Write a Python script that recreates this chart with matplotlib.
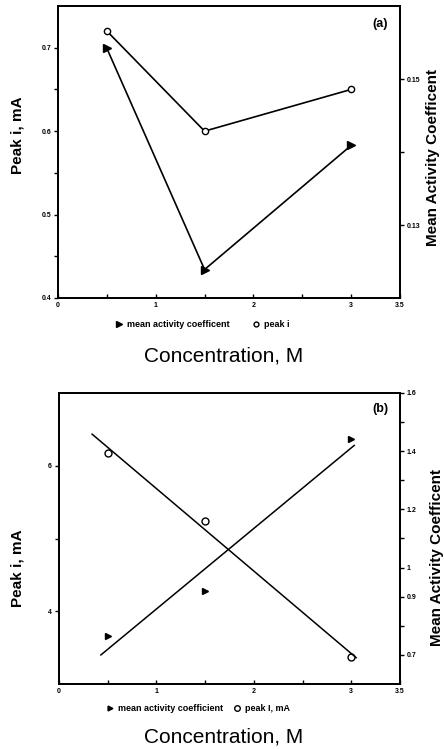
import numpy as np
import matplotlib
matplotlib.use("Agg")
import matplotlib.pyplot as plt
from matplotlib import font_manager as fm
from matplotlib.lines import Line2D

# ---------------- data ----------------
conc = [0.5, 1.5, 3.0]
peak_a = [0.72, 0.60, 0.65]
mac_a = [0.1542, 0.1239, 0.1409]
peak_b = [6.18, 5.24, 3.37]
mac_b = [0.765, 0.92, 1.442]

x_ticks = [0, 1, 2, 3, 3.5]
x_ticklabels = ["0", "1", "2", "3", "3.5"]
a_left_ticks = [0.4, 0.5, 0.6, 0.7]
a_right_ticks = [0.13, 0.15]
b_left_ticks = [4, 6]
b_right_ticks = [0.7, 0.9, 1.0, 1.2, 1.4, 1.6]
b_right_labels = ["0.7", "0.9", "1", "1.2", "1.4", "1.6"]

names = {f.name for f in fm.fontManager.ttflist}
if "Liberation Sans Narrow" in names:
    narrow, xl_size, leg_size = "Liberation Sans Narrow", 18, 7.5
else:
    narrow, xl_size, leg_size = "Liberation Sans", 15, 6.5
base = "Liberation Sans"
plt.rcParams["font.family"] = [base, "DejaVu Sans"]

fig = plt.figure(figsize=(4.44, 7.49), dpi=100)
W, H = 444.0, 749.0

def axrect(l, t, r, b):
    return [l / W, 1 - b / H, (r - l) / W, (b - t) / H]

tickfont = dict(fontsize=5, fontweight="bold")

def style(ax, ax2):
    for a in (ax, ax2):
        for s in a.spines.values():
            s.set_linewidth(1.3)
    ax.set_xlim(0, 3.5)
    ax.set_xticks(x_ticks)
    ax.set_xticklabels(x_ticklabels, **tickfont)
    ax.set_xticks([0.5, 1.5, 2.5], minor=True)
    ax.tick_params(axis="x", which="both", direction="in", length=3, width=1, pad=3)
    ax.tick_params(axis="y", which="both", direction="out", length=3, width=1, pad=2)
    ax2.tick_params(axis="y", which="both", direction="out", length=3, width=1, pad=2)
    for lab in ax.get_yticklabels() + ax2.get_yticklabels():
        lab.set_fontsize(5)
        lab.set_fontweight("bold")

# ---------------- panel (a) ----------------
ax = fig.add_axes(axrect(58, 6, 400, 298))
ax2 = ax.twinx()
ax.set_ylim(0.4, 0.75)
ax2.set_ylim(0.12, 0.16)
ax.set_yticks(a_left_ticks)
ax.set_yticklabels([f"{v:.1f}" for v in a_left_ticks])
ax.set_yticks([0.45, 0.55, 0.65], minor=True)
ax2.set_yticks(a_right_ticks)
ax2.set_yticklabels([f"{v:.2f}" for v in a_right_ticks])
ax2.set_yticks([0.14], minor=True)
ax.plot(conc, peak_a, color="black", lw=1.2, marker="o", ms=4.5,
        mfc="white", mec="black", mew=1.0)
ax2.plot(conc, mac_a, color="black", lw=1.2, marker=">", ms=6,
         mfc="black", mec="black")
style(ax, ax2)
ax.text(0.965, 0.96, "(a)", transform=ax.transAxes, ha="right", va="top",
        fontsize=9, fontweight="bold")
h1 = Line2D([], [], ls="none", marker=">", ms=5, color="black")
h2 = Line2D([], [], ls="none", marker="o", ms=3.5, mfc="white", mec="black")
ax.legend([h1, h2], ["mean activity coefficent", "peak i"], loc="center",
          bbox_to_anchor=(0.42, -0.09), ncol=2, frameon=False,
          prop=dict(family=[narrow, "DejaVu Sans"], size=leg_size, weight="bold"),
          handletextpad=0.3, columnspacing=2.3, handlelength=1.2)
fig.text(224 / W, 1 - 356 / H, "Concentration, M", ha="center", va="center",
         fontsize=xl_size, family=[narrow, "DejaVu Sans"])
fig.text(18 / W, 1 - 135 / H, "Peak i, mA", rotation=90, ha="center",
         va="center", fontsize=11, fontweight="bold")
fig.text(433 / W, 1 - 157 / H, "Mean Activity Coefficent", rotation=90,
         ha="center", va="center", fontsize=11, fontweight="bold")

# ---------------- panel (b) ----------------
bx = fig.add_axes(axrect(59, 393, 400, 684))
bx2 = bx.twinx()
bx.set_ylim(3, 7)
bx2.set_ylim(0.6, 1.6)
bx.set_yticks(b_left_ticks)
bx.set_yticklabels([str(v) for v in b_left_ticks])
bx.set_yticks([5], minor=True)
bx2.set_yticks(b_right_ticks)
bx2.set_yticklabels(b_right_labels)
bx2.set_yticks([0.8, 1.1, 1.3, 1.5], minor=True)

bx.plot(conc, peak_b, ls="none", marker="o", ms=5, mfc="white",
        mec="black", mew=1.0)
bx2.plot(conc, mac_b, ls="none", marker=">", ms=4, color="black")
p1 = np.polyfit(conc, peak_b, 1)
xs1 = np.array([0.34, 3.05])
bx.plot(xs1, np.polyval(p1, xs1), color="black", lw=1.1)
p2 = np.polyfit(conc, mac_b, 1)
xs2 = np.array([0.43, 3.03])
bx2.plot(xs2, np.polyval(p2, xs2), color="black", lw=1.1)
style(bx, bx2)
bx.text(0.965, 0.965, "(b)", transform=bx.transAxes, ha="right", va="top",
        fontsize=9, fontweight="bold")
g1 = Line2D([], [], ls="none", marker=">", ms=3.5, color="black")
g2 = Line2D([], [], ls="none", marker="o", ms=4, mfc="white", mec="black")
bx.legend([g1, g2], ["mean activity coefficient", "peak I, mA"], loc="center",
          bbox_to_anchor=(0.405, -0.085), ncol=2, frameon=False,
          prop=dict(family=[narrow, "DejaVu Sans"], size=leg_size, weight="bold"),
          handletextpad=0.3, columnspacing=0.9, handlelength=1.2)
fig.text(224 / W, 1 - 737 / H, "Concentration, M", ha="center", va="center",
         fontsize=xl_size, family=[narrow, "DejaVu Sans"])
fig.text(18 / W, 1 - 568 / H, "Peak i, mA", rotation=90, ha="center",
         va="center", fontsize=11, fontweight="bold")
fig.text(437 / W, 1 - 558 / H, "Mean Activity Coefficent", rotation=90,
         ha="center", va="center", fontsize=11, fontweight="bold")

fig.savefig("out.png", dpi=100)
